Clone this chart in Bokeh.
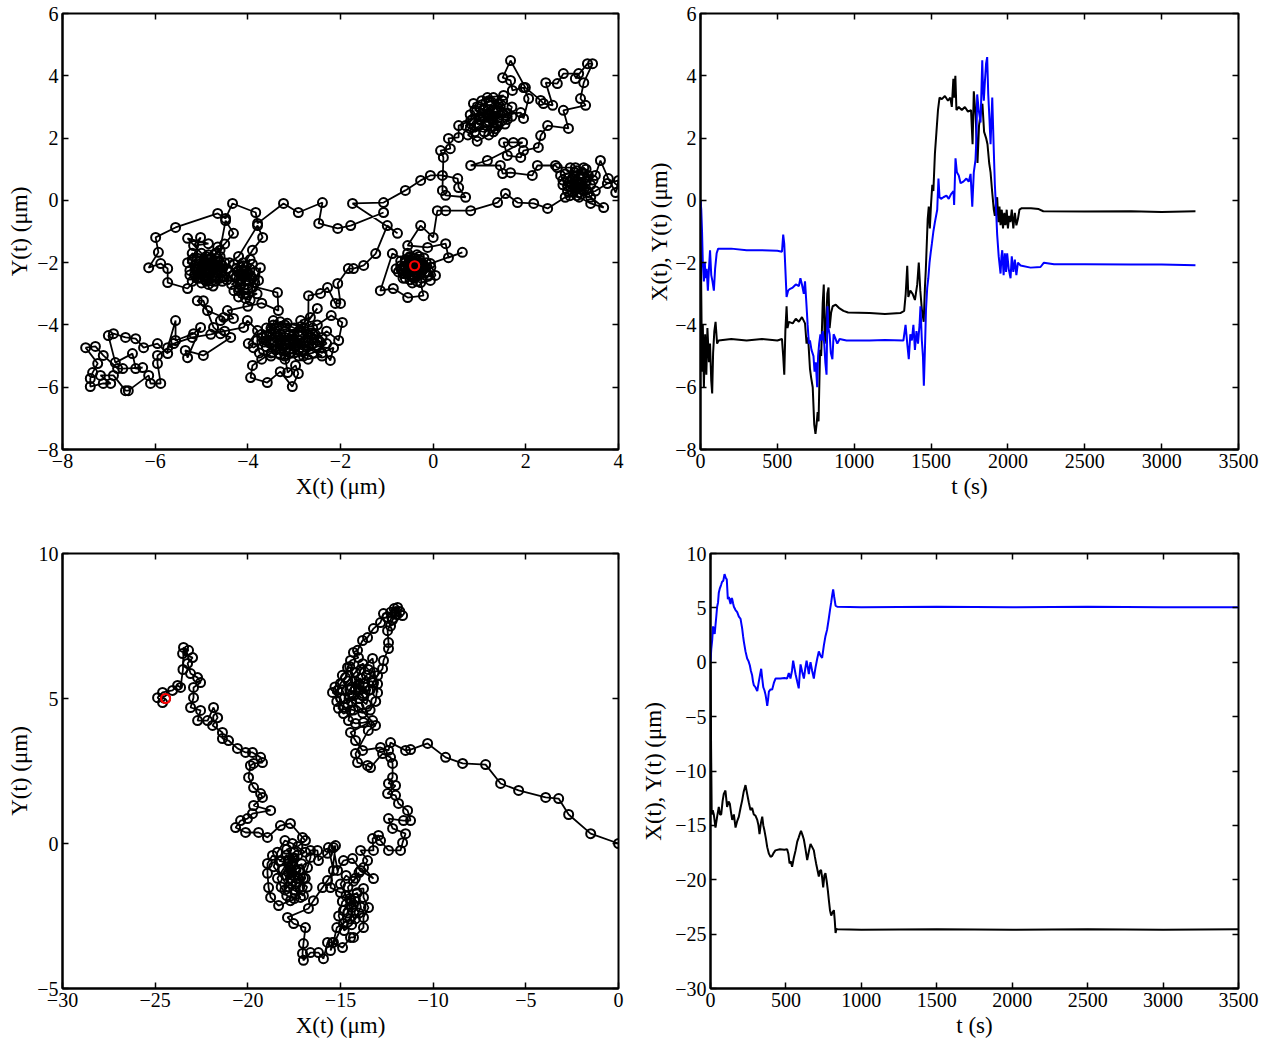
from bokeh.plotting import figure
from bokeh.layouts import row, column
from bokeh.models import FixedTicker, LinearAxis, CustomJSTickFormatter, Range1d
from bokeh.embed import file_html
from bokeh.resources import INLINE

FONT = "Liberation Serif"

# ---------------- data: top-left trajectory (X, Y) in micrometres, read in time order ----------------
tl_start = [
    (-1.07, -0.39), (-1.78, -0.81), (-2.06, -0.90), (-2.47, -0.74), (-2.39, -0.07), (-2.91, -0.39),
    (-3.23, -0.10), (-3.79, -0.74), (-3.83, -0.39), (-4.33, -0.10), (-4.48, -0.58), (-4.65, -0.42),
    (-5.56, -0.87), (-5.99, -1.19), (-5.93, -1.67), (-6.14, -2.16), (-5.88, -2.03), (-5.73, -2.19),
    (-5.73, -2.64), (-5.30, -2.83),
]
tl_blob_a = [
    (-5.1, -2.5), (-4.9, -2.2), (-5.2, -1.9), (-5.02, -1.19), (-5.17, -1.45), (-4.85, -1.39), (-5.30, -1.22),
    (-5.0, -1.7), (-4.8, -2.0), (-4.6, -1.8), (-4.7, -2.3), (-4.9, -2.6), (-5.1, -2.2), (-5.3, -2.0),
    (-5.2, -1.7), (-4.95, -1.9), (-4.75, -2.4), (-4.55, -2.1), (-4.6, -1.6), (-4.48, -0.65), (-4.31, -1.06),
    (-4.5, -1.4), (-4.7, -1.7), (-5.0, -2.1), (-5.15, -2.4), (-4.85, -2.7), (-4.6, -2.5), (-4.5, -2.0),
    (-4.65, -1.5), (-4.9, -1.8), (-5.05, -2.35), (-4.8, -2.15),
    (-5.0, -2.3), (-4.85, -2.5), (-4.7, -2.1), (-4.95, -2.0), (-5.15, -2.1), (-5.25, -2.4), (-5.0, -2.65),
    (-4.75, -2.75), (-4.55, -2.45), (-4.65, -1.95), (-4.85, -1.75), (-5.1, -1.85), (-5.25, -2.25),
    (-4.9, -2.35), (-4.65, -2.25), (-4.8, -1.9), (-5.05, -2.5), (-4.55, -2.6), (-4.7, -2.6), (-5.2, -2.6),
    (-4.95, -2.15), (-4.75, -2.05), (-5.05, -1.95), (-4.6, -2.3),
    (-4.9, -2.25), (-4.95, -2.05), (-4.8, -2.3), (-4.85, -2.1), (-5.0, -2.2), (-4.75, -2.05), (-4.9, -2.45),
    (-5.1, -2.3), (-4.7, -2.45), (-5.05, -2.05), (-4.6, -2.15), (-4.8, -1.85), (-4.45, -2.2), (-4.5, -2.45),
]
tl_blob_b = [
    (-4.4, -2.0), (-4.2, -1.8), (-3.79, -0.81), (-3.68, -1.19), (-3.9, -1.6), (-4.1, -2.1), (-4.3, -2.4),
    (-4.0, -2.6), (-3.85, -2.3), (-4.15, -2.7), (-4.3, -2.9), (-4.05, -3.0), (-3.9, -2.8), (-3.73, -2.16),
    (-3.77, -2.57), (-3.95, -3.2), (-4.2, -3.1), (-4.1, -2.4), (-3.95, -1.9), (-4.25, -2.2),
    (-4.1, -2.3), (-3.9, -2.5), (-4.2, -2.55), (-4.35, -2.7), (-4.0, -2.85), (-3.85, -2.65), (-4.1, -2.0),
    (-4.3, -2.05), (-3.95, -2.2), (-4.2, -2.9), (-3.8, -3.0), (-4.05, -3.15), (-4.25, -2.45), (-3.9, -2.05),
    (-4.15, -2.6), (-4.1, -2.45), (-4.0, -2.35), (-4.15, -2.35), (-4.05, -2.55), (-3.95, -2.4), (-4.2, -2.25),
    (-4.4, -2.3), (-4.45, -2.55), (-3.36, -2.96), (-3.34, -3.54), (-3.7, -3.3), (-4.0, -3.4),
]
tl_left_tail = [
    (-4.44, -3.54), (-4.31, -3.79), (-4.59, -3.86), (-4.52, -3.76), (-4.87, -3.54), (-5.09, -3.22),
    (-4.96, -3.22), (-4.74, -4.08), (-4.59, -4.28), (-4.37, -4.40), (-4.96, -4.98), (-5.35, -4.82),
    (-5.30, -5.05), (-5.02, -4.08), (-5.17, -4.28), (-5.56, -4.50), (-5.56, -3.86), (-5.73, -4.73),
    (-5.73, -4.92), (-5.95, -4.60), (-6.25, -4.73), (-6.42, -4.44), (-6.64, -4.40), (-6.90, -4.28),
    (-7.01, -4.34), (-6.86, -5.21), (-6.49, -4.92), (-6.42, -5.40), (-6.27, -5.37), (-6.70, -5.40),
    (-6.81, -5.40), (-7.12, -4.98), (-7.29, -4.69), (-7.50, -4.73), (-7.24, -5.24), (-7.35, -5.53),
    (-7.40, -5.72), (-7.40, -5.98), (-7.12, -5.88), (-6.96, -5.88), (-7.18, -5.62), (-6.90, -5.62),
    (-6.64, -6.11), (-6.58, -6.11), (-6.14, -5.62), (-6.10, -5.88), (-5.88, -5.88), (-5.95, -5.24),
    (-5.95, -4.98), (-5.6, -4.6), (-5.2, -4.4), (-4.8, -4.3), (-4.5, -4.2), (-4.09, -4.08), (-4.01, -3.86),
]
tl_blob_c = [
    (-3.79, -4.18), (-3.99, -4.60), (-3.88, -4.73), (-3.6, -4.5), (-3.4, -4.2), (-3.45, -3.86), (-3.2, -4.0),
    (-3.0, -4.3), (-3.3, -4.6), (-3.5, -4.9), (-3.7, -5.1), (-3.9, -5.3), (-3.94, -5.69), (-3.58, -5.85),
    (-3.3, -5.5), (-3.04, -5.98), (-2.91, -5.56), (-2.97, -5.30), (-3.14, -5.53), (-3.2, -5.0), (-2.9, -4.8),
    (-2.7, -4.5), (-2.86, -3.86), (-2.65, -3.76), (-2.50, -3.47), (-2.8, -4.1), (-3.1, -4.5), (-3.4, -4.4),
    (-3.6, -4.1), (-3.3, -3.9), (-3.0, -4.1), (-2.6, -4.3), (-2.50, -4.50), (-2.22, -5.14), (-2.15, -4.73),
    (-2.4, -4.9), (-2.7, -4.7), (-3.0, -4.6), (-3.2, -4.8), (-3.5, -4.6), (-3.7, -4.4), (-3.4, -4.7),
    (-3.1, -4.9), (-2.8, -5.0), (-2.6, -4.6), (-2.3, -4.2), (-2.04, -4.50), (-1.96, -3.92), (-2.2, -3.7),
    (-2.5, -4.0),
    (-3.5, -4.3), (-3.3, -4.5), (-3.1, -4.3), (-2.9, -4.5), (-2.7, -4.3), (-2.5, -4.7), (-2.8, -4.8),
    (-3.0, -4.7), (-3.2, -4.6), (-3.4, -4.8), (-3.6, -4.7), (-3.7, -4.3), (-3.5, -4.1), (-3.2, -4.2),
    (-2.9, -4.2), (-2.6, -4.1), (-2.4, -4.4), (-2.3, -4.6), (-2.6, -4.9), (-2.9, -5.0), (-3.2, -5.1),
    (-3.5, -5.0), (-3.75, -4.9), (-3.8, -4.5), (-3.6, -4.35), (-3.35, -4.35), (-3.05, -4.45), (-2.75, -4.55),
    (-2.45, -4.55), (-2.55, -4.3), (-2.85, -4.05), (-3.15, -3.95), (-3.45, -4.0), (-3.65, -4.55),
    (-3.3, -4.95), (-3.0, -4.9), (-2.7, -5.1), (-2.4, -5.0),
    (-3.0, -4.5), (-3.2, -4.4), (-2.9, -4.35), (-3.1, -4.6), (-3.3, -4.3), (-2.8, -4.6), (-3.25, -4.75),
    (-2.95, -4.65), (-3.45, -4.55), (-2.7, -4.4),
    (-2.69, -3.06), (-2.43, -2.99), (-2.28, -2.80), (-2.11, -3.31), (-2.00, -3.31),
]
tl_rise = [
    (-2.06, -2.67), (-1.83, -2.19), (-1.72, -2.19), (-1.50, -2.09), (-1.24, -1.71), (-0.99, -0.81),
    (-0.77, -1.06), (-1.74, -0.10), (-1.07, -0.07), (-0.60, 0.32), (-0.27, 0.64), (-0.06, 0.80),
    (0.20, 0.80), (0.53, 0.70), (0.55, 0.41), (0.70, 0.10), (0.27, 0.16), (0.20, 0.32), (0.22, 1.38),
    (0.16, 1.60), (0.37, 1.66), (0.33, 1.99), (0.55, 2.02), (0.55, 2.40), (0.81, 2.56), (0.87, 3.11),
    (1.17, 3.30), (1.52, 3.37),
]
tl_blob_d = [
    (1.2, 2.9), (1.0, 2.6), (0.8, 2.3), (1.1, 2.2), (1.3, 2.5), (1.5, 2.8), (1.4, 3.1), (1.2, 3.2),
    (0.9, 2.9), (1.1, 2.7), (1.35, 2.3), (1.6, 2.6), (1.7, 3.0), (1.5, 3.2), (1.3, 2.9), (1.0, 2.4),
    (0.75, 2.1), (0.95, 1.9), (1.2, 2.1), (1.4, 2.4),
    (1.0, 3.0), (1.2, 2.75), (1.4, 2.65), (1.6, 2.8), (1.45, 3.0), (1.25, 3.05), (1.05, 2.8), (0.85, 2.6),
    (0.7, 2.4), (0.9, 2.2), (1.15, 2.4), (1.3, 2.2), (1.55, 2.45), (1.7, 2.7), (1.3, 3.3), (1.05, 3.2),
    (0.95, 2.45), (1.2, 2.55), (1.45, 2.75), (0.8, 2.75),
    (1.2, 2.8), (1.25, 2.65), (1.1, 2.9), (1.35, 2.85), (1.15, 2.5), (1.3, 2.7),
    (1.89, 2.82), (1.95, 2.63), (2.06, 3.27), (1.95, 3.62),
    (1.71, 3.53), (1.67, 3.85), (1.50, 3.94), (1.67, 4.49), (1.99, 3.62), (2.32, 3.21), (2.38, 3.11),
    (2.58, 3.05), (2.43, 3.78), (2.68, 3.75), (2.81, 4.07), (3.14, 4.07), (3.07, 3.91), (3.33, 4.39),
    (3.44, 4.39), (3.25, 3.78), (3.18, 3.27), (3.29, 3.05), (2.81, 2.89), (2.92, 2.31), (2.47, 2.40),
    (2.32, 2.08), (2.27, 1.70), (1.95, 1.60), (1.89, 1.38), (1.60, 1.44), (1.52, 1.86), (1.73, 1.86),
    (1.93, 1.86), (1.17, 1.28), (0.81, 1.12), (1.45, 1.12), (1.50, 0.86), (1.67, 0.89), (2.14, 0.80),
    (2.25, 1.12), (2.64, 1.12),
]
tl_blob_e = [
    (2.68, 1.05), (2.96, 1.05), (3.07, 1.05), (3.22, 0.86), (3.0, 0.7), (2.8, 0.5), (3.1, 0.4), (3.3, 0.6),
    (3.5, 0.8), (3.61, 1.28), (3.78, 0.70), (3.94, 0.25), (4.0, 0.64), (3.76, 0.54), (3.5, 0.3), (3.2, 0.2),
    (2.9, 0.3), (2.75, 0.8), (3.05, 0.9), (3.3, 1.0), (3.4, 0.5), (3.15, 0.55), (2.95, 0.6), (3.25, 0.35),
    (3.0, 0.5), (3.2, 0.7), (3.35, 0.8), (3.1, 0.95), (2.85, 0.85), (2.8, 0.65), (3.0, 0.3), (3.2, 0.45),
    (3.35, 0.25), (3.15, 0.1), (2.95, 0.15), (3.05, 0.75), (3.25, 1.05), (3.45, 0.65), (2.9, 0.45),
    (3.3, 0.35), (3.1, 0.6), (3.05, 0.45), (3.2, 0.55), (3.0, 0.65), (3.15, 0.7),
    (3.4, 0.1), (3.68, -0.23), (3.40, -0.10), (3.1, 0.15), (2.85, 0.1),
]
tl_end = [
    (2.47, -0.26), (2.17, -0.10), (1.82, -0.07), (1.56, 0.22), (1.39, -0.07), (0.81, -0.33), (0.27, -0.33),
    (0.09, -0.33), (0.0, -1.19), (-0.27, -0.81), (-0.55, -1.45), (-0.12, -1.51), (0.27, -1.39),
    (0.33, -1.84), (0.63, -1.67), (-0.06, -2.03), (0.05, -2.41), (-0.06, -2.57), (-0.27, -2.64),
    (-0.21, -3.06), (-0.55, -3.12), (-0.86, -2.83), (-1.14, -2.90), (-0.88, -1.71), (-0.6, -1.9),
    (-0.3, -1.8), (-0.5, -2.3), (-0.7, -2.2), (-0.4, -2.5), (-0.2, -2.2), (-0.45, -1.95), (-0.65, -2.5),
    (-0.35, -2.35), (-0.55, -2.1),
    (-0.3, -2.0), (-0.5, -1.9), (-0.6, -2.2), (-0.45, -2.4), (-0.25, -2.3), (-0.15, -2.0), (-0.35, -1.75),
    (-0.55, -1.7), (-0.7, -1.95), (-0.75, -2.3), (-0.6, -2.5), (-0.35, -2.6), (-0.1, -2.4), (-0.05, -2.15),
    (-0.2, -1.85), (-0.45, -2.2), (-0.3, -2.25), (-0.55, -2.05), (-0.65, -2.35), (-0.5, -2.55),
    (-0.25, -2.5), (-0.15, -2.3), (-0.3, -1.9), (-0.5, -1.8), (-0.7, -2.1), (-0.4, -2.3), (-0.35, -2.0),
    (-0.6, -1.95), (-0.8, -2.2), (-0.45, -2.65), (-0.2, -2.1), (-0.4, -1.85), (-0.55, -2.3), (-0.3, -2.4),
    (-0.45, -2.0), (-0.4, -2.2), (-0.35, -2.15), (-0.5, -2.15), (-0.45, -2.05), (-0.3, -2.1),
    (-0.5, -2.25), (-0.4, -2.0), (-0.25, -2.15),
    (-0.42, -2.15), (-0.38, -2.05), (-0.40, -2.10),
]
tl_xy = tl_start + tl_blob_a + tl_blob_b + tl_left_tail + tl_blob_c + tl_rise + tl_blob_d + tl_blob_e + tl_end

# ---------------- data: top-right time series (t in s, value in micrometres) ----------------
tr_X = [
    (0, 0.0), (5, -3.0), (10, -5.5), (15, -4.0), (22, -6.0), (30, -4.3), (38, -5.6), (45, -4.1), (55, -5.2),
    (62, -4.6), (70, -5.8), (76, -6.2), (82, -4.9), (90, -4.2), (98, -3.9), (108, -4.6), (118, -4.5),
    (200, -4.45), (300, -4.5), (400, -4.45), (500, -4.5), (530, -4.45), (538, -5.0), (545, -5.6),
    (552, -4.2), (560, -3.4), (566, -4.1), (575, -3.9), (600, -3.95), (620, -3.8), (640, -3.9),
    (660, -3.75), (680, -3.95), (690, -4.6), (700, -4.4), (712, -5.4), (720, -5.7), (730, -6.0),
    (740, -7.2), (748, -7.5), (755, -7.2), (762, -6.8), (768, -7.1), (778, -4.8), (785, -5.0),
    (795, -3.3), (802, -2.7), (808, -4.6), (815, -4.2), (825, -3.0), (833, -2.8), (840, -4.1),
    (850, -3.6), (860, -3.4), (880, -3.35), (900, -3.45), (930, -3.55), (960, -3.6), (1100, -3.62),
    (1200, -3.65), (1300, -3.62), (1325, -3.55), (1335, -3.0), (1345, -2.1), (1352, -3.1), (1365, -2.9),
    (1380, -3.0), (1395, -3.2), (1410, -2.7), (1420, -2.0), (1430, -2.9), (1440, -3.5), (1452, -3.9),
    (1460, -2.8), (1466, -2.2), (1472, -1.4), (1478, -0.6), (1485, -0.2), (1492, -0.9), (1500, -0.1),
    (1508, 0.5), (1515, 0.3), (1525, 1.5), (1535, 2.2), (1545, 2.9), (1555, 3.3), (1570, 3.25),
    (1590, 3.35), (1610, 3.2), (1625, 3.3), (1635, 3.0), (1645, 3.9), (1650, 3.3), (1658, 4.0),
    (1665, 2.9), (1680, 3.0), (1700, 2.9), (1720, 3.0), (1740, 2.85), (1760, 2.9), (1770, 1.8),
    (1778, 3.5), (1790, 2.7), (1802, 1.2), (1812, 2.4), (1825, 2.9), (1834, 3.1), (1845, 2.2),
    (1858, 2.0), (1867, 1.8), (1878, 1.2), (1887, 0.9), (1897, 0.3), (1908, -0.3), (1915, -0.5),
    (1922, -0.1), (1930, 0.1), (1938, -0.7), (1945, -0.2), (1952, -0.8), (1960, -0.3), (1968, -0.9),
    (1976, -0.4), (1984, -0.8), (1992, -0.3), (2000, -0.9), (2008, -0.5), (2016, -0.7), (2025, -0.3),
    (2035, -0.9), (2045, -0.4), (2055, -0.8), (2065, -0.6), (2075, -0.3), (2090, -0.25), (2150, -0.25),
    (2200, -0.28), (2230, -0.35), (2500, -0.36), (2800, -0.35), (3000, -0.37), (3220, -0.35),
]
tr_Y = [
    (0, 0.0), (5, -0.3), (10, -1.0), (15, -2.0), (22, -2.6), (28, -2.0), (33, -2.5), (40, -2.2), (48, -2.9),
    (55, -2.2), (62, -1.6), (70, -2.4), (78, -2.6), (87, -2.9), (95, -2.2), (105, -1.7), (115, -1.55),
    (200, -1.55), (300, -1.6), (400, -1.6), (500, -1.62), (530, -1.65), (538, -1.1), (545, -1.4),
    (552, -2.2), (560, -3.1), (570, -2.9), (580, -2.85), (600, -2.8), (620, -2.7), (640, -2.75),
    (650, -2.5), (660, -2.7), (672, -3.0), (680, -2.6), (690, -3.4), (697, -4.0), (705, -4.6),
    (712, -4.5), (722, -4.8), (735, -5.0), (742, -5.5), (750, -5.2), (759, -6.0), (765, -5.0),
    (772, -4.6), (780, -4.3), (788, -4.5), (795, -4.2), (805, -4.6), (812, -5.2), (820, -5.6),
    (826, -3.4), (832, -4.1), (840, -4.3), (848, -4.9), (858, -5.1), (866, -4.3), (875, -4.4),
    (890, -4.6), (905, -4.45), (950, -4.5), (1100, -4.5), (1200, -4.48), (1320, -4.5), (1334, -4.0),
    (1345, -4.6), (1355, -5.1), (1365, -4.3), (1375, -4.5), (1385, -4.0), (1395, -4.8), (1405, -4.2),
    (1415, -4.6), (1425, -4.0), (1431, -3.4), (1440, -4.5), (1447, -5.0), (1453, -5.95), (1460, -4.8),
    (1467, -3.5), (1475, -2.8), (1482, -2.5), (1490, -2.0), (1497, -1.7), (1505, -1.4), (1515, -1.0),
    (1525, -0.7), (1540, -0.3), (1548, 0.7), (1555, 0.1), (1565, 0.05), (1580, 0.1), (1600, 0.15),
    (1615, 0.05), (1630, 0.2), (1646, 0.3), (1650, -0.15), (1659, 1.35), (1668, 0.9), (1680, 0.8),
    (1692, 0.55), (1710, 0.6), (1730, 0.7), (1745, 0.6), (1757, 0.85), (1768, -0.2), (1778, 0.9),
    (1789, 1.3), (1795, 2.0), (1800, 3.4), (1810, 2.9), (1822, 2.5), (1833, 4.5), (1838, 3.6),
    (1843, 3.2), (1850, 3.8), (1858, 4.4), (1865, 4.6), (1872, 3.4), (1880, 2.6), (1887, 1.8),
    (1898, 3.3), (1908, 1.6), (1915, 0.5), (1922, -0.2), (1930, -1.1), (1940, -1.8), (1952, -2.35),
    (1958, -1.8), (1963, -1.6), (1972, -2.4), (1980, -1.7), (1988, -2.3), (1995, -1.7), (2005, -2.2),
    (2017, -2.5), (2025, -1.8), (2035, -2.3), (2045, -1.9), (2055, -2.4), (2065, -2.0), (2082, -2.09),
    (2147, -2.16), (2212, -2.14), (2234, -2.0), (2300, -2.05), (2500, -2.05), (2800, -2.06),
    (3000, -2.06), (3220, -2.08),
]

# ---------------- data: bottom-left trajectory ----------------
bl_out = [
    (0.0, 0.0), (-1.5, 0.34), (-2.69, 1.0), (-3.23, 1.55), (-3.93, 1.59), (-5.39, 1.83), (-6.36, 2.07),
    (-7.17, 2.72), (-8.41, 2.76), (-9.33, 2.97), (-10.30, 3.45), (-11.22, 3.24), (-11.49, 3.21),
    (-12.30, 3.48), (-12.41, 3.21), (-12.84, 3.31), (-13.81, 3.21), (-14.19, 3.55), (-14.46, 3.83),
]
bl_upper = [
    (-13.27, 4.24), (-13.76, 4.17), (-14.19, 4.14), (-14.57, 4.24), (-14.46, 4.59), (-14.84, 4.48),
    (-15.11, 4.66), (-15.0, 5.03), (-15.43, 5.21), (-15.16, 5.28), (-15.0, 5.52), (-14.73, 5.72),
    (-14.62, 6.07), (-14.46, 6.31), (-14.03, 6.41), (-14.30, 6.59), (-14.08, 6.66), (-13.81, 7.0),
    (-13.54, 7.10), (-13.22, 7.41), (-12.84, 7.62), (-12.68, 7.93), (-12.30, 7.97), (-11.92, 8.14),
    (-12.2, 7.7), (-12.0, 7.9), (-11.8, 8.0), (-12.1, 8.1), (-12.5, 7.8), (-12.3, 7.5),
    (-11.65, 7.86), (-12.0, 8.0), (-12.46, 7.34), (-12.41, 6.93), (-12.41, 6.72), (-12.68, 6.31),
    (-12.73, 6.03), (-13.0, 5.79), (-13.22, 5.55), (-13.49, 5.28), (-13.76, 5.17), (-13.76, 5.52),
    (-13.3, 5.6), (-13.0, 5.2), (-13.27, 6.38), (-13.9, 6.0), (-14.2, 5.6), (-14.5, 5.3), (-14.8, 5.0),
    (-14.0, 5.0), (-13.6, 4.8), (-13.4, 5.3), (-13.6, 5.8), (-14.0, 5.5), (-14.3, 5.1), (-14.6, 4.8),
    (-14.9, 5.3), (-14.6, 5.6), (-14.2, 5.9), (-13.8, 6.2), (-13.5, 6.0), (-13.2, 5.9), (-13.0, 5.5),
    (-13.1, 4.9), (-13.4, 4.6), (-13.8, 4.5), (-14.3, 4.6), (-14.8, 4.7), (-15.2, 4.9), (-15.3, 5.4),
    (-14.9, 5.8), (-14.5, 6.1), (-14.0, 5.3), (-13.8, 5.1), (-14.2, 5.3), (-13.9, 5.7), (-14.4, 5.4),
    (-13.7, 5.4),
    (-14.4, 4.9), (-14.0, 4.7), (-13.11, 4.07), (-13.5, 3.9), (-14.19, 3.10), (-14.08, 2.79),
    (-13.54, 2.69), (-13.38, 2.62), (-12.73, 3.10), (-12.30, 2.97), (-12.19, 2.76), (-12.19, 2.28),
    (-12.41, 2.07), (-12.03, 2.0), (-12.46, 1.72), (-12.03, 1.66), (-11.87, 1.38), (-11.38, 1.14),
    (-11.22, 0.79), (-11.60, 0.79), (-12.41, 0.86), (-12.19, 0.52), (-11.49, 0.34), (-11.65, 0.03),
    (-11.76, -0.24), (-12.41, -0.24), (-12.84, 0.10), (-12.95, 0.28), (-13.27, 0.17), (-13.22, -0.24),
]
bl_lower = [
    (-13.92, -0.24), (-13.54, -0.59), (-13.76, -0.83), (-13.22, -1.21), (-13.92, -0.93), (-14.35, -0.52),
    (-14.84, -0.59), (-15.16, -0.93), (-15.38, -0.14), (-15.27, -0.07), (-15.54, -1.52), (-15.0, -1.69),
    (-13.76, -1.55), (-13.76, -1.86), (-13.49, -2.21), (-13.76, -2.55), (-13.76, -2.90), (-14.30, -3.24),
    (-14.46, -3.24), (-14.89, -3.59), (-15.43, -3.41), (-15.54, -3.69), (-14.84, -2.76), (-14.84, -2.31),
    (-14.46, -1.97), (-14.6, -1.5), (-14.2, -1.2),
    (-14.0, -1.0), (-14.3, -1.3), (-14.7, -1.1), (-15.0, -1.4), (-14.7, -1.8), (-14.3, -2.1), (-14.0, -2.4),
    (-14.4, -2.8), (-14.8, -3.0), (-15.1, -2.5), (-14.9, -2.0), (-14.1, -1.7), (-13.9, -2.2), (-14.2, -2.6),
    (-14.6, -2.4), (-14.4, -2.2), (-14.5, -1.9), (-14.2, -1.9),
    (-14.5, -2.6), (-15.2, -2.9), (-15.38, -3.41),
    (-15.70, -3.41), (-15.92, -3.97), (-16.19, -3.76), (-16.62, -3.76), (-17.0, -4.03), (-17.05, -3.79),
    (-17.0, -3.45), (-16.89, -2.90), (-17.53, -2.76), (-17.86, -2.55), (-16.73, -2.24), (-16.46, -1.97),
    (-15.97, -1.52), (-15.70, -1.28), (-15.38, -0.93), (-15.65, -0.14), (-15.70, -0.34), (-16.19, -0.59),
    (-16.24, -0.24), (-16.62, -0.24), (-16.62, -0.48), (-16.78, -0.83), (-17.0, -1.2), (-17.43, -1.62),
    (-17.16, -1.86), (-17.70, -1.97), (-18.34, -2.14), (-18.77, -1.86), (-18.88, -1.52), (-18.94, -1.03),
    (-18.94, -0.69), (-18.67, -0.41), (-18.2, -0.6), (-17.8, -1.0), (-17.5, -0.5), (-17.2, -0.9),
    (-17.6, -1.3), (-18.0, -1.6),
    (-17.5, -0.3), (-17.8, -0.6), (-18.1, -0.9), (-18.4, -1.2), (-18.2, -1.5), (-17.9, -1.8), (-17.5, -1.9),
    (-17.2, -1.5), (-16.9, -1.2), (-17.1, -0.7), (-17.4, -0.9), (-17.7, -1.2), (-17.3, -0.4), (-16.9, -0.3),
    (-17.6, 0.0), (-18.0, 0.1), (-18.4, -0.3), (-18.6, -0.8), (-17.8, -1.5), (-17.0, -1.8), (-16.8, -1.5),
    (-17.3, -1.2), (-17.6, -0.7), (-18.3, -0.6), (-17.9, -0.4), (-17.5, -1.1), (-17.7, -0.9), (-17.4, -1.4),
    (-17.9, -1.1), (-17.6, -0.5),
    (-17.9, -0.2), (-17.3, -0.1), (-16.89, 0.10), (-17.05, 0.21),
]
bl_left_arm = [
    (-17.70, 0.69), (-18.24, 0.62), (-18.94, 0.21), (-19.42, 0.38), (-20.12, 0.38), (-20.66, 0.55),
    (-20.39, 0.79), (-20.02, 0.86), (-19.75, 1.03), (-18.77, 1.14), (-19.69, 1.31), (-19.21, 1.59),
    (-19.31, 1.72), (-19.69, 1.93), (-19.96, 2.28), (-19.86, 2.69), (-19.69, 2.76), (-19.21, 2.79),
    (-19.31, 2.97), (-19.75, 3.14), (-20.12, 3.14), (-20.56, 3.28), (-21.04, 3.55), (-21.37, 3.62),
    (-21.37, 3.83), (-21.90, 4.07), (-21.63, 4.34), (-21.85, 4.69), (-22.17, 4.24), (-22.71, 4.24),
    (-22.55, 4.59), (-23.09, 4.69), (-22.93, 5.03), (-22.93, 5.38), (-22.55, 5.55), (-22.71, 5.72),
    (-23.09, 5.86), (-23.25, 6.21), (-22.98, 6.41), (-23.52, 6.55), (-23.20, 6.66), (-23.47, 6.76),
    (-23.5, 6.0), (-23.63, 5.38), (-23.79, 5.45), (-24.06, 5.28), (-24.60, 5.21), (-24.87, 5.03),
    (-24.60, 4.86), (-24.44, 5.0),
]
bl_xy = bl_out + bl_upper + bl_lower + bl_left_arm

# ---------------- data: bottom-right time series ----------------
br_X = [
    (0, 0.0), (4, -8.0), (8, -14.0), (15, -13.6), (22, -14.0), (33, -15.2), (44, -14.2), (55, -13.3),
    (63, -14.0), (71, -14.0), (80, -12.8), (88, -12.1), (99, -11.8), (110, -13.3), (120, -12.8),
    (128, -13.0), (136, -13.8), (144, -14.5), (155, -14.0), (166, -15.2), (177, -14.6), (188, -14.2),
    (199, -13.4), (210, -12.7), (220, -11.9), (232, -11.3), (243, -12.1), (254, -12.9), (265, -13.6),
    (276, -13.4), (287, -14.0), (298, -14.1), (310, -14.5), (318, -15.0), (325, -15.8), (334, -14.8),
    (343, -14.2), (350, -15.0), (358, -15.5), (367, -16.2), (376, -17.0), (387, -17.6), (398, -17.9),
    (409, -17.8), (420, -17.5), (430, -17.3), (460, -17.2), (490, -17.25), (508, -17.2), (516, -17.6),
    (524, -18.5), (532, -18.3), (541, -18.8), (552, -18.0), (564, -17.3), (575, -16.5), (585, -16.1),
    (592, -15.8), (600, -15.5), (610, -15.9), (619, -16.3), (630, -17.2), (641, -18.2), (652, -17.4),
    (663, -16.7), (674, -17.0), (685, -17.3), (692, -17.9), (700, -18.5), (709, -19.1), (718, -19.7),
    (725, -19.2), (733, -19.1), (740, -19.8), (747, -20.7), (755, -19.6), (762, -19.4), (770, -20.1),
    (778, -21.0), (784, -21.8), (792, -22.8), (800, -23.3), (809, -23.0), (818, -22.8), (824, -23.8),
    (829, -24.9), (835, -24.5), (840, -24.55), (1000, -24.6), (1500, -24.55), (2000, -24.6),
    (2500, -24.55), (3000, -24.6), (3500, -24.55),
]
br_Y = [
    (0, 0.0), (5, 1.2), (11, 2.0), (17, 3.3), (22, 3.0), (28, 2.6), (33, 3.4), (39, 4.3), (44, 5.1),
    (50, 5.5), (55, 6.4), (62, 6.8), (70, 7.1), (77, 7.4), (85, 7.5), (93, 8.1), (100, 7.8), (108, 7.6),
    (115, 5.8), (122, 6.0), (128, 5.6), (133, 5.35), (139, 5.9), (144, 5.8), (150, 5.4), (155, 5.1),
    (166, 4.8), (177, 4.6), (188, 4.2), (199, 4.0), (205, 3.5), (210, 3.1), (216, 2.4), (221, 1.9),
    (232, 1.0), (243, 0.34), (252, 0.1), (261, -0.3), (268, -0.8), (276, -1.2), (282, -1.8),
    (287, -2.1), (298, -2.3), (310, -2.66), (320, -1.8), (328, -1.2), (336, -0.6), (343, -1.5),
    (350, -2.3), (358, -2.6), (365, -3.0), (372, -3.6), (376, -4.0), (382, -3.4), (387, -2.7),
    (398, -2.5), (409, -2.5), (420, -1.9), (431, -1.5), (464, -1.5), (490, -1.45), (508, -1.5),
    (519, -1.0), (525, -1.2), (530, -1.5), (540, -0.8), (548, 0.15), (556, -0.5), (564, -1.1),
    (575, -1.8), (585, -2.4), (591, -1.2), (597, -0.2), (608, -0.9), (619, -1.5), (628, -0.6),
    (637, 0.15), (645, -0.5), (652, -1.1), (658, -0.4), (663, 0.0), (674, -0.8), (685, -1.5),
    (690, -1.0), (696, -0.5), (707, 0.3), (718, 1.0), (729, 0.6), (740, 0.4), (751, 1.5), (762, 2.4),
    (773, 3.0), (784, 4.0), (792, 4.8), (800, 5.5), (807, 6.2), (813, 6.7), (820, 6.0), (829, 5.2),
    (840, 5.1), (1000, 5.05), (1500, 5.1), (2000, 5.05), (2500, 5.1), (3000, 5.05), (3500, 5.05),
]

# axis ticks and labels
tl_xticks = [-8, -6, -4, -2, 0, 2, 4]
tl_yticks = [-8, -6, -4, -2, 0, 2, 4, 6]
tr_xticks = [0, 500, 1000, 1500, 2000, 2500, 3000, 3500]
tr_yticks = [-8, -6, -4, -2, 0, 2, 4, 6]
bl_xticks = [-30, -25, -20, -15, -10, -5, 0]
bl_yticks = [-5, 0, 5, 10]
br_xticks = [0, 500, 1000, 1500, 2000, 2500, 3000, 3500]
br_yticks = [-30, -25, -20, -15, -10, -5, 0, 5, 10]

label_xy_x = "X(t) (μm)"
label_xy_y = "Y(t) (μm)"
label_ts_x = "t (s)"
label_ts_y = "X(t), Y(t) (μm)"

MINUS_FMT = "return (tick < 0 ? '\u2212' : '') + Math.abs(tick).toString();"


def make_fig(xr, yr, xticks, yticks, xlabel, ylabel, w, h, bl, br, bt, bb, ylabel_standoff):
    p = figure(width=w, height=h, x_range=Range1d(*xr), y_range=Range1d(*yr),
               output_backend="svg", toolbar_location=None,
               min_border_left=bl, min_border_right=br, min_border_top=bt, min_border_bottom=bb)
    p.xgrid.visible = False
    p.ygrid.visible = False
    p.outline_line_color = "black"
    p.outline_line_width = 2
    p.background_fill_color = "white"
    p.border_fill_color = "white"
    for ax, ticks, lab in ((p.xaxis[0], xticks, xlabel), (p.yaxis[0], yticks, ylabel)):
        ax.ticker = FixedTicker(ticks=ticks)
        ax.formatter = CustomJSTickFormatter(code=MINUS_FMT)
        ax.major_tick_in = 6
        ax.major_tick_out = 0
        ax.major_tick_line_width = 1.5
        ax.minor_tick_line_color = None
        ax.axis_line_width = 2
        ax.major_label_text_font = FONT
        ax.major_label_text_font_size = "20px"
        ax.major_label_text_color = "black"
        ax.axis_label = lab
        ax.axis_label_text_font = FONT
        ax.axis_label_text_font_size = "23px"
        ax.axis_label_text_font_style = "normal"
        ax.axis_label_text_color = "black"
    p.xaxis[0].major_label_standoff = 4
    p.xaxis[0].axis_label_standoff = 3
    p.yaxis[0].major_label_standoff = 4
    p.yaxis[0].axis_label_standoff = ylabel_standoff
    # mirrored ticks on top and right
    for loc, ticks in (("above", xticks), ("right", yticks)):
        ax = LinearAxis(ticker=FixedTicker(ticks=ticks),
                        formatter=CustomJSTickFormatter(code="return '';"),
                        major_tick_in=6, major_tick_out=0, major_tick_line_width=1.5,
                        minor_tick_line_color=None, axis_line_color=None,
                        major_label_standoff=0, major_label_text_font_size="1px")
        p.add_layout(ax, loc)
    return p


def unzip(pairs):
    return [a for a, _ in pairs], [b for _, b in pairs]


MSIZE = 9
MLW = 2.0

# top-left
p1 = make_fig((-8, 4), (-8, 6), tl_xticks, tl_yticks, label_xy_x, label_xy_y,
              628, 505, 62, 10, 13, 56, 2)
x, y = unzip(tl_xy)
p1.line(x, y, line_color="black", line_width=1.8)
p1.scatter(x, y, marker="circle", size=MSIZE, fill_color=None, line_color="black", line_width=MLW)
p1.scatter([x[-1]], [y[-1]], marker="circle", size=MSIZE, fill_color=None, line_color="red", line_width=2.2)

# top-right
p2 = make_fig((0, 3500), (-8, 6), tr_xticks, tr_yticks, label_ts_x, label_ts_y,
              645, 505, 72, 35, 13, 56, 0)
t, v = unzip(tr_X)
p2.line(t, v, line_color="black", line_width=2)
t, v = unzip(tr_Y)
p2.line(t, v, line_color="blue", line_width=2)

# bottom-left
p3 = make_fig((-30, 0), (-5, 10), bl_xticks, bl_yticks, label_xy_x, label_xy_y,
              628, 537, 62, 10, 48, 54, 2)
x, y = unzip(bl_xy)
p3.line(x, y, line_color="black", line_width=1.8)
p3.scatter(x, y, marker="circle", size=MSIZE, fill_color=None, line_color="black", line_width=MLW)
p3.scatter([x[-1]], [y[-1]], marker="circle", size=MSIZE, fill_color=None, line_color="red", line_width=2.2)

# bottom-right
p4 = make_fig((0, 3500), (-30, 10), br_xticks, br_yticks, label_ts_x, label_ts_y,
              645, 537, 82, 35, 44, 54, 6)
t, v = unzip(br_X)
p4.line(t, v, line_color="black", line_width=2)
t, v = unzip(br_Y)
p4.line(t, v, line_color="blue", line_width=2)

layout = column(row(p1, p2), row(p3, p4))
with open("out.html", "w", encoding="utf-8") as f:
    f.write(file_html(layout, INLINE))
